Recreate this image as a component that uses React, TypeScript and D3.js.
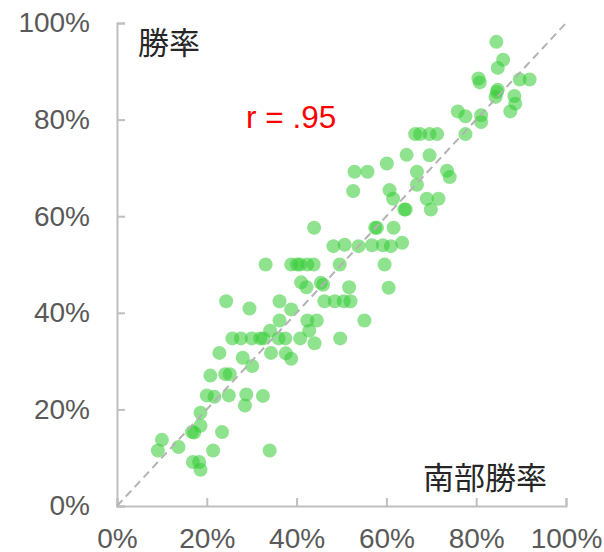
import React, { useEffect, useRef } from 'react';
import * as d3 from 'd3';

// 南部勝率 (x) vs 勝率 (y)
const southRate = [
  9.1, 10.0, 13.7, 16.7, 17.2, 16.9, 18.3, 18.6, 18.6, 18.6, 21.4, 23.4, 34.0,
  20.0, 21.7, 24.9, 28.8, 28.5, 32.5, 20.8, 24.1, 25.1, 22.8, 28.0, 30.1, 34.3,
  37.6, 38.8,
  25.7, 27.6, 30.0, 31.9, 32.6, 36.0, 37.5, 40.8, 49.7,
  44.0, 34.1, 42.8, 36.2, 42.4, 44.5, 55.1, 24.3, 29.5, 36.2, 38.8, 46.2, 48.5,
  50.5, 52.0, 41.0, 42.2, 45.4, 45.9, 51.7, 60.5,
  33.1, 38.8, 40.1, 40.8, 42.4, 43.8, 49.6, 59.6,
  48.2, 50.7, 53.8, 56.8, 59.2, 61.0, 63.5, 43.9, 57.5, 57.9, 61.6, 64.0, 64.3,
  69.9, 61.5, 69.0, 71.6, 52.6, 60.7, 66.8, 52.9, 55.8, 66.8, 73.5, 74.1, 60.1,
  64.5, 69.6,
  66.4, 67.5, 69.6, 71.3, 77.6,
  75.9, 77.6, 81.1, 81.1, 80.5, 80.8, 84.3, 84.6, 84.8, 88.5, 88.7, 87.6, 84.8,
  86.0, 84.5, 89.7, 91.9,
];
const winRate = [
  11.5, 13.7, 12.2, 15.3, 15.2, 9.1, 9.1, 7.5, 16.6, 19.3, 11.5, 15.3, 11.5,
  22.9, 22.6, 22.9, 23.1, 20.8, 22.8, 27.0, 27.3, 27.3, 31.7, 30.7, 29.0, 31.7,
  31.6, 30.5,
  34.7, 34.7, 34.7, 34.7, 34.7, 34.7, 34.7, 34.7, 34.7,
  33.7, 36.3, 36.3, 38.4, 38.4, 38.4, 38.4, 42.4, 40.9, 42.4, 40.7, 42.4, 42.4,
  42.4, 42.4, 46.3, 45.3, 46.2, 45.8, 45.3, 45.2,
  50.0, 50.0, 50.0, 50.0, 50.0, 50.0, 50.0, 50.0,
  53.8, 54.1, 53.8, 54.0, 54.0, 53.8, 54.5, 57.6, 57.6, 57.6, 57.6, 61.4, 61.4,
  61.4, 63.6, 63.6, 63.6, 65.2, 65.4, 66.5, 69.2, 69.2, 69.2, 69.4, 68.1, 70.9,
  72.7, 72.6,
  77.0, 77.0, 77.0, 77.0, 77.0,
  81.7, 80.7, 80.9, 79.5, 88.5, 87.7, 84.7, 85.7, 86.2, 84.9, 83.3, 81.7, 90.7,
  92.4, 96.1, 88.3, 88.3,
];
const tickValues = [0, 20, 40, 60, 80, 100];
const yLabel = '勝率';
const xLabel = '南部勝率';
const corrLabel = 'r = .95';

const width = 604;
const height = 552;

export default function App() {
  const ref = useRef<SVGSVGElement>(null);

  useEffect(() => {
    document.body.style.margin = '0';
    const svg = d3.select(ref.current);
    svg.selectAll('*').remove();

    const margin = { top: 23, right: 38, bottom: 46, left: 117 };
    const x = d3.scaleLinear().domain([0, 100]).range([margin.left, width - margin.right]);
    const y = d3.scaleLinear().domain([0, 100]).range([height - margin.bottom, margin.top]);

    const fmt = (d: number) => `${d}%`;
    const axisColor = '#bfbfbf';
    const tickFont = 'Arial, "Liberation Sans", sans-serif';

    const gx = svg.append('g')
      .attr('transform', `translate(0,${y(0)})`)
      .call(d3.axisBottom(x).tickValues(tickValues).tickFormat(fmt as any).tickSize(-8).tickPadding(22));
    const gy = svg.append('g')
      .attr('transform', `translate(${x(0)},0)`)
      .call(d3.axisLeft(y).tickValues(tickValues).tickFormat(fmt as any).tickSize(-8).tickPadding(27));

    [gx, gy].forEach(g => {
      g.select('.domain').attr('stroke', axisColor).attr('stroke-width', 2);
      g.selectAll('.tick line').attr('stroke', axisColor).attr('stroke-width', 2);
      g.selectAll('.tick text')
        .attr('fill', '#595959')
        .attr('font-size', 28)
        .attr('font-family', tickFont);
    });

    svg.append('g')
      .selectAll('circle')
      .data(southRate)
      .join('circle')
      .attr('cx', d => x(d))
      .attr('cy', (d, i) => y(winRate[i]))
      .attr('r', 7)
      .attr('fill', '#33cc33')
      .attr('fill-opacity', 0.55);

    svg.append('line')
      .attr('x1', x(0)).attr('y1', y(0))
      .attr('x2', x(100)).attr('y2', y(100))
      .attr('stroke', '#b3b3b3')
      .attr('stroke-width', 2)
      .attr('stroke-dasharray', '8,5');

    const cjk = '"Noto Sans CJK JP", "Noto Sans CJK SC", sans-serif';
    svg.append('text')
      .attr('x', 138).attr('y', 54)
      .attr('font-size', 31)
      .attr('font-family', cjk)
      .attr('fill', '#262626')
      .text(yLabel);

    svg.append('text')
      .attr('x', 547).attr('y', 489)
      .attr('text-anchor', 'end')
      .attr('font-size', 31)
      .attr('font-family', cjk)
      .attr('fill', '#262626')
      .text(xLabel);

    svg.append('text')
      .attr('x', 246).attr('y', 128)
      .attr('font-size', 31.5)
      .attr('font-family', tickFont)
      .attr('fill', '#ff0000')
      .text(corrLabel);
  }, []);

  return <svg ref={ref} width={width} height={height} style={{ display: 'block' }} />;
}
